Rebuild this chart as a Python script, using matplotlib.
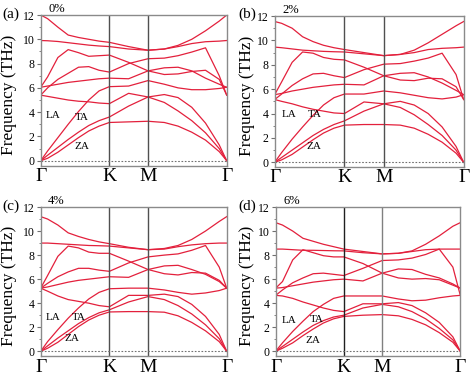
import numpy as np
import matplotlib
matplotlib.use('Agg')
import matplotlib.pyplot as plt
from matplotlib.ticker import MultipleLocator

plt.rcParams['font.family'] = ['Liberation Serif', 'DejaVu Serif']

# k-path sample positions (Gamma-K-M-Gamma), K at 1.0
k_path = [0, 0.1, 0.25, 0.4, 0.55, 0.7, 0.85, 1.0, 1.28, 1.563, 1.8, 2.0, 2.2, 2.4, 2.6, 2.709]
sym_pos = [0, 1.0, 1.563, 2.709]
sym_labels = ['Γ', 'K', 'M', 'Γ']

# phonon bands (THz), one list of 9 bands per strain
bands_0 = [
    [0, 0.2, 0.7, 1.3, 1.9, 2.45, 2.85, 3.15, 3.2, 3.25, 3.15, 2.85, 2.35, 1.7, 0.75, 0],
    [0, 0.45, 1.1, 1.75, 2.35, 2.9, 3.3, 3.6, 4.5, 5.25, 4.8, 4.1, 3.3, 2.3, 1.0, 0],
    [5.4, 5.3, 5.15, 5.0, 4.9, 4.85, 4.75, 4.7, 5.55, 5.25, 5.45, 5.2, 4.4, 3.1, 1.3, 0],
    [0, 0.8, 1.9, 3.0, 4.05, 5.0, 5.75, 6.1, 6.15, 6.6, 6.3, 6.0, 5.85, 5.85, 5.95, 6.05],
    [6.05, 6.15, 6.3, 6.45, 6.55, 6.65, 6.75, 6.8, 6.75, 7.4, 7.1, 7.15, 7.35, 7.45, 6.7, 5.4],
    [5.4, 6.0, 6.7, 7.2, 7.7, 7.75, 7.45, 7.3, 8.0, 8.4, 8.45, 8.65, 8.95, 9.3, 7.0, 5.4],
    [6.05, 6.9, 8.5, 9.15, 8.9, 8.6, 8.65, 8.7, 8.1, 7.4, 7.65, 7.7, 7.4, 6.8, 6.3, 6.05],
    [9.9, 9.88, 9.82, 9.72, 9.62, 9.52, 9.45, 9.4, 9.2, 9.1, 9.2, 9.4, 9.65, 9.8, 9.85, 9.9],
    [12.0, 11.7, 11.0, 10.35, 10.15, 10.0, 9.85, 9.75, 9.4, 9.1, 9.2, 9.5, 10.0, 10.7, 11.5, 12.0],
]
bands_2 = [
    [0, 0.2, 0.65, 1.25, 1.85, 2.4, 2.8, 3.05, 3.1, 3.1, 3.05, 2.8, 2.3, 1.65, 0.75, 0],
    [0, 0.4, 1.0, 1.6, 2.2, 2.7, 3.1, 3.4, 4.2, 4.8, 4.5, 3.9, 3.1, 2.2, 1.0, 0],
    [5.15, 5.0, 4.8, 4.55, 4.35, 4.2, 4.05, 4.0, 4.95, 4.8, 5.0, 4.7, 4.0, 2.9, 1.3, 0],
    [0, 0.8, 1.9, 2.9, 3.85, 4.7, 5.3, 5.6, 5.6, 5.85, 5.7, 5.5, 5.3, 5.2, 5.35, 5.55],
    [5.55, 5.65, 5.85, 6.0, 6.15, 6.25, 6.35, 6.4, 6.35, 7.1, 6.75, 6.7, 6.9, 6.85, 6.2, 5.15],
    [5.15, 5.6, 6.3, 6.85, 7.25, 7.3, 7.1, 6.95, 7.6, 8.05, 8.1, 8.3, 8.55, 8.95, 7.2, 5.15],
    [5.55, 6.6, 8.2, 9.05, 8.95, 8.6, 8.45, 8.4, 7.8, 7.1, 7.3, 7.35, 7.0, 6.5, 5.9, 5.55],
    [9.45, 9.4, 9.3, 9.2, 9.15, 9.1, 9.07, 9.05, 8.9, 8.75, 8.85, 9.0, 9.25, 9.35, 9.4, 9.45],
    [11.55, 11.4, 11.0, 10.3, 9.9, 9.6, 9.4, 9.25, 9.0, 8.75, 8.85, 9.2, 9.8, 10.5, 11.2, 11.55],
]
bands_4 = [
    [0, 0.25, 0.75, 1.4, 2.05, 2.6, 3.0, 3.27, 3.3, 3.3, 3.25, 2.95, 2.4, 1.7, 0.8, 0],
    [0, 0.45, 1.1, 1.7, 2.3, 2.8, 3.2, 3.45, 4.1, 4.55, 4.3, 3.8, 3.1, 2.2, 1.05, 0],
    [5.25, 5.0, 4.6, 4.3, 4.15, 4.0, 3.8, 3.7, 4.65, 4.65, 4.75, 4.55, 3.9, 2.9, 1.4, 0],
    [0, 0.8, 1.8, 2.75, 3.6, 4.35, 4.9, 5.2, 5.25, 5.25, 5.1, 4.9, 4.75, 4.85, 5.05, 5.25],
    [5.25, 5.35, 5.55, 5.75, 5.9, 6.0, 6.1, 6.2, 6.15, 6.8, 6.45, 6.35, 6.55, 6.5, 5.9, 5.25],
    [5.25, 5.65, 6.2, 6.6, 6.9, 6.9, 6.75, 6.65, 7.35, 7.85, 8.0, 8.1, 8.4, 8.8, 7.0, 5.25],
    [5.25, 6.3, 7.9, 8.75, 8.6, 8.25, 8.15, 8.15, 7.5, 6.8, 7.1, 7.15, 6.8, 6.4, 5.8, 5.25],
    [9.0, 9.0, 8.95, 8.9, 8.85, 8.8, 8.78, 8.75, 8.6, 8.45, 8.5, 8.7, 8.85, 8.95, 9.0, 9.0],
    [11.2, 11.0, 10.5, 9.85, 9.55, 9.3, 9.1, 8.95, 8.65, 8.45, 8.55, 8.8, 9.3, 10.0, 10.8, 11.2],
]
bands_6 = [
    [0, 0.25, 0.7, 1.3, 1.85, 2.35, 2.7, 2.9, 3.0, 3.05, 2.95, 2.65, 2.2, 1.55, 0.75, 0],
    [0, 0.4, 1.0, 1.6, 2.15, 2.55, 2.85, 3.0, 3.6, 3.9, 3.7, 3.3, 2.7, 1.9, 0.95, 0],
    [4.65, 4.6, 4.4, 4.1, 3.85, 3.6, 3.4, 3.3, 3.95, 3.95, 4.05, 3.8, 3.2, 2.4, 1.2, 0],
    [0, 0.7, 1.65, 2.5, 3.3, 3.9, 4.4, 4.6, 4.6, 4.6, 4.35, 4.2, 4.25, 4.45, 4.6, 4.65],
    [5.25, 5.3, 5.45, 5.6, 5.75, 5.85, 5.95, 6.0, 5.85, 6.5, 6.1, 6.0, 6.05, 5.95, 5.5, 5.25],
    [4.65, 5.1, 5.7, 6.1, 6.45, 6.5, 6.4, 6.3, 6.9, 7.55, 7.6, 7.75, 8.05, 8.5, 7.0, 4.65],
    [5.25, 5.8, 7.6, 8.45, 8.2, 7.95, 7.85, 7.85, 7.3, 6.5, 6.85, 6.8, 6.4, 6.1, 5.6, 5.25],
    [8.5, 8.5, 8.45, 8.4, 8.4, 8.38, 8.36, 8.35, 8.2, 8.1, 8.15, 8.3, 8.45, 8.5, 8.5, 8.5],
    [10.7, 10.5, 10.0, 9.4, 9.15, 8.9, 8.7, 8.5, 8.3, 8.1, 8.15, 8.35, 8.9, 9.6, 10.4, 10.7],
]

panel_tags = ['(a)', '(b)', '(c)', '(d)']
strain_labels = ['0%', '2%', '4%', '6%']
all_bands = [bands_0, bands_2, bands_4, bands_6]

# mode label positions (k, freq) per panel: LA, TA, ZA
mode_pos = [
    [(0.18, 3.75), (0.6, 3.6), (0.6, 1.2)],
    [(0.2, 3.9), (0.57, 3.9), (0.56, 1.3)],
    [(0.18, 2.8), (0.56, 2.85), (0.45, 1.05)],
    [(0.19, 2.6), (0.6, 2.65), (0.55, 0.9)],
]

# axes rectangles in figure fractions
rects = [
    [0.0859, 0.5696, 0.3924, 0.3914],
    [0.5795, 0.5670, 0.3987, 0.3914],
    [0.0859, 0.0745, 0.3924, 0.3878],
    [0.5816, 0.0745, 0.3895, 0.3878],
]
ybottom = [-0.41, -0.36, -0.42, -0.42]
tag_xy = [(0.004, 0.963), (0.502, 0.963), (0.004, 0.465), (0.502, 0.465)]
ylab_x = [-0.125, -0.105, -0.125, -0.112]
kline_colors = [('#505050', '#505050'), ('#505050', '#505050'),
                ('#505050', '#505050'), ('#202020', '#808080')]

red = '#e3203c'

fig = plt.figure(figsize=(4.74, 3.85), dpi=100)

for i in range(4):
    ax = fig.add_axes(rects[i])
    for band in all_bands[i]:
        ax.plot(k_path, band, color=red, lw=0.9)

    for xv, c in zip(sym_pos[1:3], kline_colors[i]):
        ax.axvline(xv, color=c, lw=1.0)
    ax.axhline(0, color='#707070', lw=0.8, ls=(0, (1.5, 1.5)))

    ax.set_xlim(0, sym_pos[-1])
    ax.set_ylim(ybottom[i], 12)
    ax.set_xticks(sym_pos)
    ax.set_xticklabels(sym_labels, fontsize=14)
    ax.tick_params(axis='x', length=0, pad=2)
    ax.yaxis.set_major_locator(MultipleLocator(2))
    ax.yaxis.set_minor_locator(MultipleLocator(1))
    ax.tick_params(axis='y', which='major', length=3, labelsize=8.5, pad=1.5, color='#707070')
    ax.tick_params(axis='y', which='minor', length=1.5, color='#707070')
    for sp in ax.spines.values():
        sp.set_color('#8a8a8a')
        sp.set_linewidth(1.0)

    ax.set_ylabel('Frequency (THz)', fontsize=12.5)
    ax.yaxis.set_label_coords(ylab_x[i], 0.472)

    for name, (kx, fy) in zip(['LA', 'TA', 'ZA'], mode_pos[i]):
        ax.text(kx, fy, name, fontsize=8, ha='center', va='center')

    ax.text(0.04, 1.0, strain_labels[i], transform=ax.transAxes,
            fontsize=9, ha='left', va='bottom')
    fig.text(tag_xy[i][0], tag_xy[i][1], panel_tags[i], fontsize=11,
             ha='left', va='center')

fig.savefig('out.png', dpi=100)
